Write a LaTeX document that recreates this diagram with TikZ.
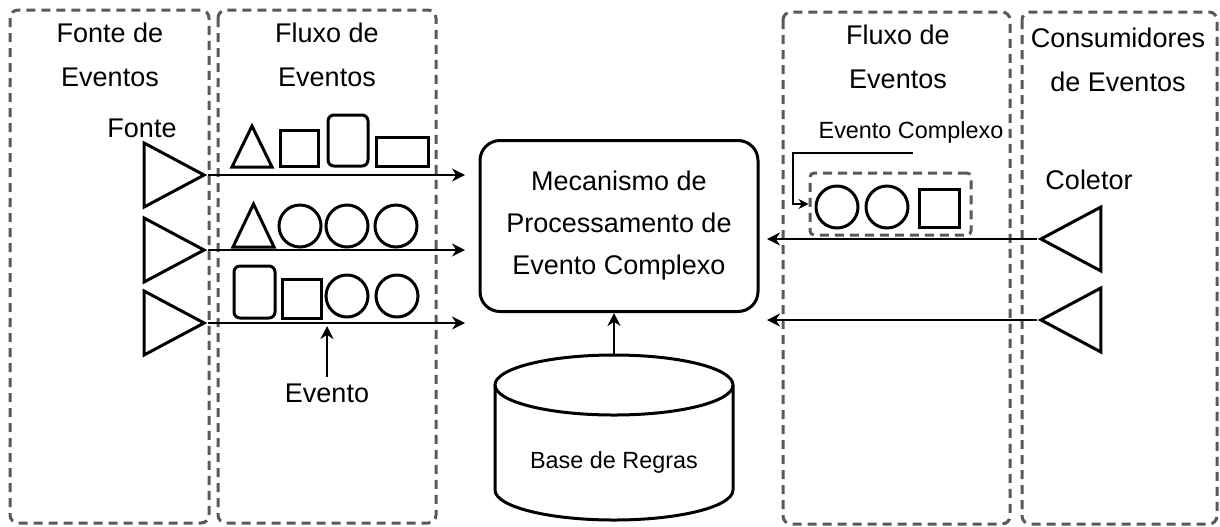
\documentclass[tikz,border=0pt]{standalone}
\usepackage{fontspec}
\setmainfont{Liberation Sans}
\usetikzlibrary{shapes.geometric,arrows.meta}

\begin{document}
\begin{tikzpicture}[x=0.5pt, y=-0.5pt,
  lane/.style={draw=black!65, line width=1.5pt, dash pattern=on 4.5pt off 3pt, rounded corners=4pt},
  hdr/.style={align=center, font=\fontsize{13.5pt}{22pt}\selectfont},
  lbl/.style={font=\fontsize{13.5pt}{16pt}\selectfont},
  small/.style={font=\fontsize{11.7pt}{14pt}\selectfont},
  shp/.style={draw, line width=1.5pt},
  tri/.style={isosceles triangle, isosceles triangle stretches, draw, line width=1.5pt,
    inner sep=0pt, minimum width=32pt, minimum height=30pt},
  flow/.style={-{Stealth[length=6.5pt,width=6.5pt]}, line width=1pt}]
  \useasboundingbox (0,0) rectangle (1220,526);

  % swimlanes
  \draw[lane] (10,10) rectangle (209,523);
  \draw[lane] (218,10) rectangle (436,523);
  \draw[lane] (783,12) rectangle (1010,524);
  \draw[lane] (1022,12) rectangle (1217,524);
  \node[hdr] (h1) at (110,55) {Fonte de\\Eventos};
  \node[hdr] (h2) at (327,55) {Fluxo de\\Eventos};
  \node[hdr] (h3) at (898,57) {Fluxo de\\Eventos};
  \node[hdr] (h4) at (1118,60) {Consumidores\\de Eventos};

  % sources and collectors
  \node[lbl] (fonte) at (142,128) {Fonte};
  \node[tri, anchor=apex] (src1) at (208,175) {};
  \node[tri, anchor=apex] (src2) at (208,250) {};
  \node[tri, anchor=apex] (src3) at (208,323) {};
  \node[lbl] (coletor) at (1089,180) {Coletor};
  \node[tri, shape border rotate=180, anchor=apex] (col1) at (1037,239) {};
  \node[tri, shape border rotate=180, anchor=apex] (col2) at (1037,320) {};

  \node[shp, rounded corners=10pt, minimum width=139pt, minimum height=85.5pt, hdr,
    font=\fontsize{13.5pt}{21pt}\selectfont] (cep) at (619,226)
    {Mecanismo de\\Processamento de\\Evento Complexo};

  \coordinate (in1) at (465,175);
  \coordinate (in2) at (465,250);
  \coordinate (in3) at (465,323);
  \coordinate (out1) at (767,239);
  \coordinate (out2) at (767,320);
  \draw[flow] (src1.apex) -- (in1);
  \draw[flow] (src2.apex) -- (in2);
  \draw[flow] (src3.apex) -- (in3);
  \draw[flow] (col1.apex) -- (out1);
  \draw[flow] (col2.apex) -- (out2);

  % rule base
  \node[minimum width=119pt, minimum height=82.5pt, inner sep=0pt] (rules) at (614,437.5) {};
  \draw[shp] (614,385) ellipse [x radius=119, y radius=30];
  \draw[shp] (495,385) -- (495,490) arc[start angle=180, end angle=0, x radius=119, y radius=30] -- (733,385);
  \node[small] (rtxt) at (614,462) {Base de Regras};
  \draw[flow] (rules.north) -- (rules.north |- cep.south);

  % events in the input streams
  \draw[shp] (232,167) -- (252,126) -- (272,167) -- cycle;
  \draw[shp] (280,130) rectangle (318,166);
  \draw[shp, rounded corners=3pt] (328,115) rectangle (368,166);
  \draw[shp] (376,137) rectangle (428,166);
  \draw[shp] (233,247) -- (253.5,204) -- (274,247) -- cycle;
  \foreach \x in {300,347,396}
    \draw[shp] (\x,226) circle[radius=21];
  \draw[shp, rounded corners=3pt] (234,266) rectangle (275,318);
  \draw[shp] (282,279) rectangle (321,318);
  \foreach \x in {347,397}
    \draw[shp] (\x,296) circle[radius=21];
  \node[lbl] (ev) at (327,393) {Evento};
  \draw[flow] (ev.north) -- (ev.north |- 0,326);

  % complex event
  \node[lane, rounded corners=2pt, minimum width=80.5pt, minimum height=31pt] (cpx) at (890.5,204) {};
  \draw[shp] (837,207) circle[radius=21];
  \draw[shp] (887,207) circle[radius=21];
  \draw[shp] (919,189) rectangle (959,227);
  \node[small] (cxl) at (911,132) {Evento Complexo};
  \coordinate (cxa) at (913,153);
  \draw[-{Stealth[length=5pt,width=5pt]}, line width=0.6pt] (cxa) -- (793,153) |- (cpx.west);
\end{tikzpicture}
\end{document}
